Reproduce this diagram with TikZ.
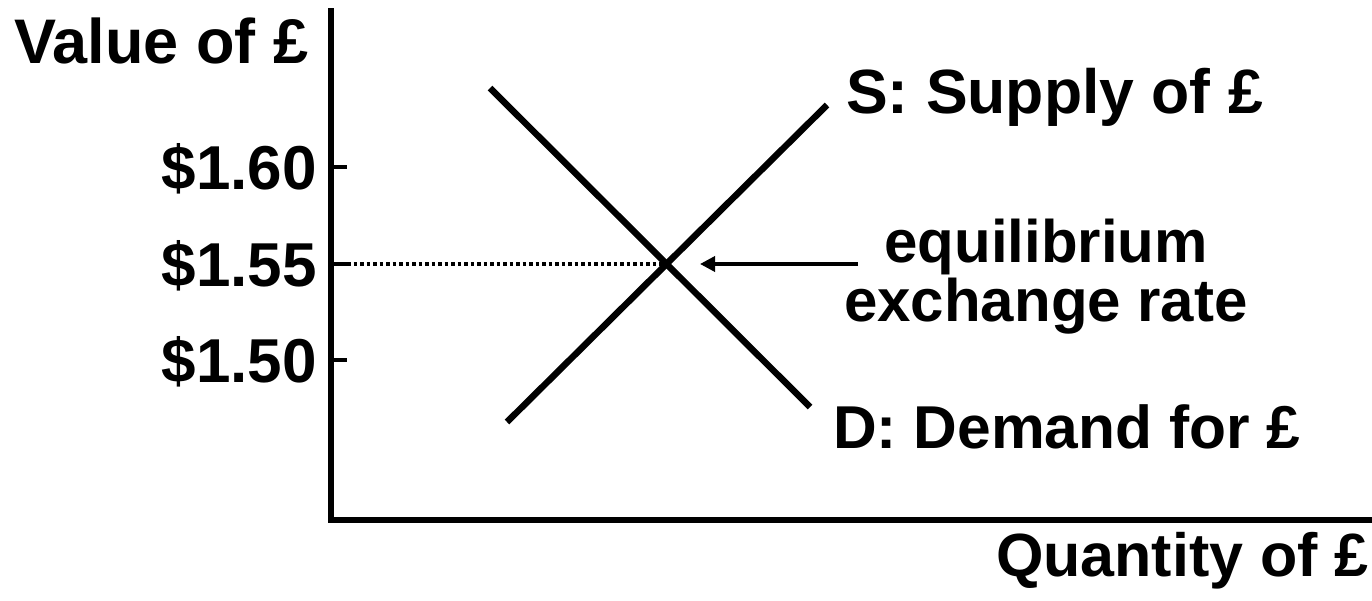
\documentclass[tikz,border=0pt]{standalone}
\usepackage{fontspec}
\setmainfont{Liberation Sans}
\usetikzlibrary{arrows.meta}
\tikzset{
  lbl/.style={inner sep=0pt, font=\fontsize{#1}{#1}\selectfont\bfseries},
  lbl/.default=60,
  axisline/.style={line width=5.5pt},
  curve/.style={line width=6.5pt},
  tickline/.style={line width=4pt},
  guide/.style={line width=3.5pt, dash pattern=on 3.5pt off 3pt},
  pointer/.style={line width=3.5pt, -{Triangle[length=15pt,width=15pt]}}
}
\begin{document}
\begin{tikzpicture}[x=1pt,y=-1pt]
\useasboundingbox (0,0) rectangle (1372,600);
% axes
\coordinate (ytop) at (331,8);
\coordinate (origin) at (331,520);
\coordinate (xend) at (1372,520);
\draw[axisline] (ytop) -- (origin) -- (xend);
% ticks
\coordinate (t60) at (331,167);
\coordinate (t55) at (331,264);
\coordinate (t50) at (331,360);
\coordinate (t60e) at (347,167);
\coordinate (t55e) at (347,264);
\coordinate (t50e) at (347,360);
\draw[tickline] (t60) -- (t60e);
\draw[tickline] (t55) -- (t55e);
\draw[tickline] (t50) -- (t50e);
% curves
\coordinate (eq) at (667,264);
\coordinate (dtop) at (490,88);
\coordinate (dbot) at (810,407);
\coordinate (sbot) at (507,422);
\coordinate (stop) at (827,105);
\draw[curve] (dtop) -- (dbot);
\draw[curve] (sbot) -- (stop);
% guide
\draw[guide] (t55e) -- (eq);
% labels
\node[lbl=63, anchor=base west] (vlab) at (14,63) {Value of £};
\node[lbl=62, anchor=base east] (p60) at (317,189) {\$1.60};
\node[lbl=62, anchor=base east] (p55) at (317,286) {\$1.55};
\node[lbl=62, anchor=base east] (p50) at (317,382) {\$1.50};
\node[lbl=62.5, anchor=base west] (slab) at (846,113) {S: Supply of £};
\node[lbl=60.5, anchor=base west] (dlab) at (833,448) {D: Demand for £};
\node[lbl=60, anchor=base] (eqa) at (1046,262) {equilibrium};
\node[lbl=60, anchor=base] (eqb) at (1046,321) {exchange rate};
\node[lbl=61, anchor=base east] (qlab) at (1369,576) {Quantity of £};
% pointer
\coordinate (arrstart) at (858,264);
\coordinate (arrtip) at (700,264);
\draw[pointer] (arrstart) -- (arrtip);
\end{tikzpicture}
\end{document}
